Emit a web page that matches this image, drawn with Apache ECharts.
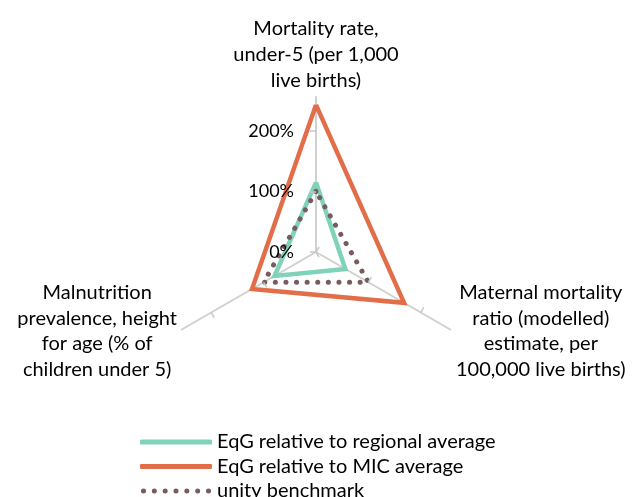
<!DOCTYPE html>
<html><head><meta charset="utf-8">
<script src="https://cdn.jsdelivr.net/npm/echarts@6/dist/echarts.min.js"></script>
<style>html,body{margin:0;padding:0;background:#fff}#c{width:636px;height:497px}</style>
</head><body><div id="c"></div>
<script>
const indicatorNames = [
  'Mortality rate,\nunder-5 (per 1,000\nlive births)',
  'Malnutrition\nprevalence, height\nfor age (% of\nchildren under 5)',
  'Maternal mortality\nratio (modelled)\nestimate, per\n100,000 live births)'
];
const seriesNames = ['EqG relative to regional average', 'EqG relative to MIC average', 'unity benchmark'];
const regionalValues = [1.15, 0.79, 0.56];
const micValues = [2.43, 1.22, 1.68];
const unityValues = [1, 1, 1];
const tickLabels = ['0%', '100%', '200%'];
const axisMax = 2.56;
const tickMax = 2;

const FONT = 'Lato, "Noto Sans", sans-serif';
const nameStyles = ['t', 'l', 'r'];
const dotIcon = 'path://' + [0,1,2,3,4,5,6].map(i => {
  const cx = 2.5 + i * (65 / 6);
  return `M${cx - 2.5},2.5a2.5,2.5 0 1,0 5,0a2.5,2.5 0 1,0 -5,0Z`;
}).join('');

const chart = echarts.init(document.getElementById('c'), null, {renderer: 'canvas'});
chart.setOption({
  backgroundColor: '#fff',
  animation: false,
  legend: {
    orient: 'vertical',
    left: 140,
    top: 432,
    height: 90,
    padding: 0,
    itemWidth: 72,
    itemHeight: 5,
    itemGap: 4.5,
    textStyle: {fontFamily: FONT, fontSize: 20, color: '#000', lineHeight: 19},
    data: [
      {name: seriesNames[0], icon: 'roundRect'},
      {name: seriesNames[1], icon: 'roundRect'},
      {name: seriesNames[2], icon: dotIcon}
    ]
  },
  radar: [
    {
      center: [316, 252],
      radius: 155,
      startAngle: 90,
      shape: 'polygon',
      splitNumber: 1,
      indicator: indicatorNames.map(n => ({name: n, min: 0, max: axisMax})),
      axisName: {
        show: true,
        color: '#000',
        fontFamily: FONT,
        fontSize: 20,
        formatter: function (name) {
          const k = nameStyles[indicatorNames.indexOf(name)];
          return name.split('\n').map(s => '{' + k + '|' + s + '}').join('\n');
        },
        rich: {
          t: {fontFamily: FONT, fontSize: 20, color: '#000', lineHeight: 26, align: 'center'},
          l: {fontFamily: FONT, fontSize: 20, color: '#000', lineHeight: 25.5, width: 164, align: 'center'},
          r: {fontFamily: FONT, fontSize: 20, color: '#000', lineHeight: 25.5, width: 176, align: 'center'}
        }
      },
      nameGap: 3,
      axisLine: {show: true, lineStyle: {color: '#d0d0d0', width: 2}},
      axisTick: {show: false},
      axisLabel: {show: false},
      splitLine: {show: false},
      splitArea: {show: false}
    },
    {
      center: [316, 252],
      radius: 121,
      startAngle: 90,
      shape: 'polygon',
      splitNumber: 2,
      z: 10,
      indicator: indicatorNames.map((n, i) => i === 0
        ? {name: n, min: 0, max: tickMax, axisLabel: {show: true}}
        : {name: n, min: 0, max: tickMax}),
      axisName: {show: false},
      axisLine: {show: false},
      axisTick: {show: true, length: 6, lineStyle: {color: '#c8c8c8', width: 1.5}},
      axisLabel: {
        show: false,
        margin: 22,
        color: '#000',
        fontFamily: FONT,
        fontSize: 18,
        formatter: function (v, i) { return tickLabels[Math.round(v)] || ''; }
      },
      splitLine: {show: false},
      splitArea: {show: false}
    }
  ],
  series: [
    {
      type: 'radar', radarIndex: 0, symbol: 'none', z: 2,
      data: [{name: seriesNames[0], value: regionalValues,
        itemStyle: {color: '#7ED3BA'},
        lineStyle: {color: '#7ED3BA', width: 4.5, join: 'miter'}}]
    },
    {
      type: 'radar', radarIndex: 0, symbol: 'none', z: 3,
      data: [{name: seriesNames[1], value: micValues,
        itemStyle: {color: '#E26E49'},
        lineStyle: {color: '#E26E49', width: 4.5, join: 'miter'}}]
    },
    {
      type: 'radar', radarIndex: 0, symbol: 'none', z: 4,
      data: [{name: seriesNames[2], value: unityValues,
        itemStyle: {color: '#765C5C'},
        lineStyle: {color: '#765C5C', width: 5, type: [0.1, 10.5], cap: 'round'}}]
    }
  ]
});
</script>
</body></html>
